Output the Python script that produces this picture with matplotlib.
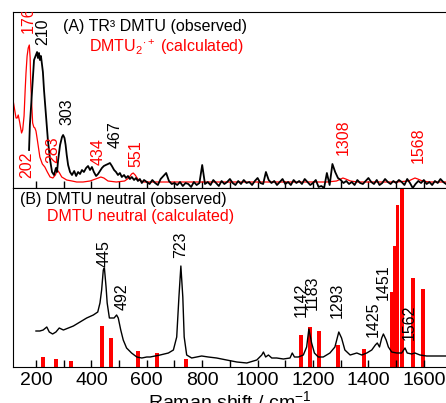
import numpy as np
import matplotlib
matplotlib.use("Agg")
import matplotlib.pyplot as plt
from matplotlib.ticker import MultipleLocator

plt.rcParams['font.family'] = ['Liberation Sans', 'DejaVu Sans']
plt.rcParams['mathtext.fontset'] = 'custom'
plt.rcParams['mathtext.rm'] = 'Liberation Sans'
plt.rcParams['mathtext.it'] = 'Liberation Sans:italic'

# (A) TR3 observed spectrum, peak region
obs_a_wn = [175, 178, 186, 193, 200, 204, 207, 211, 214, 218, 222, 225, 229, 236, 243,
            251, 258, 265, 272, 276, 280, 287, 294, 298, 303, 307, 311, 316, 323, 330,
            338, 345, 352, 359, 366, 373, 381, 388, 395, 402, 409, 417, 424, 431, 438,
            445, 452, 460, 467, 474, 482, 489, 496, 503, 510, 518, 525, 532, 539, 546,
            554, 561, 568, 575, 582, 590]
obs_a_int = [38, 63, 98, 128, 133, 136, 130, 135, 128, 132, 123, 116, 98, 73, 48,
             28, 16, 13, 20, 16, 28, 43, 51, 53, 50, 43, 33, 23, 16, 13,
             17, 12, 16, 14, 18, 16, 20, 22, 18, 21, 16, 12, 14, 17, 20,
             22, 23, 24, 25, 22, 18, 16, 13, 15, 11, 13, 10, 12, 9, 11,
             8, 10, 7, 9, 5, 8]
# (A) noisy baseline, 600-1680 cm-1 every 10
base_a_wn = list(range(600, 1690, 10))
base_a_int = [6, 4, 8, 5, 3, 9, 12, 15, 7, 4,
              5, 3, 6, 2, 5, 4, 1, 6, 3, 5,
              23, 4, 6, 3, 8, 5, 2, 7, 4, 6,
              9, 5, 3, 7, 4, 8, 5, 6, 3, 7,
              10, 5, 4, 16, 8, 5, 7, 3, 6, 9,
              4, 6, 3, 8, 5, 7, 4, 9, 6, 3,
              5, 8, 1, 2, 0, 15, 3, 24, 16, 10,
              8, 5, 7, 4, 6, 3, 8, 5, 4, 7,
              10, 6, 4, 8, 3, 5, 9, 6, 4, 7,
              5, 8, 6, 3, 9, 5, 0, 4, 7, 5,
              8, 4, 6, 3, 7, 5, 9, 6, 4]
# (A) calculated DMTU2 radical cation
calc_a_wn = [116, 122, 128, 132, 136, 141, 148, 152, 157, 161, 164, 168, 172, 176, 179,
             181, 185, 188, 192, 196, 200, 205, 214, 223, 232, 241, 251, 261, 270, 277,
             285, 293, 311, 330, 347, 370, 395, 415, 425, 434, 445, 460, 490, 520, 535,
             545, 551, 558, 570, 590, 700, 900, 1100, 1250, 1285, 1300, 1308, 1318, 1335,
             1360, 1500, 1545, 1560, 1568, 1578, 1595, 1620, 1680]
calc_a_int = [90, 80, 70, 70, 73, 66, 55, 58, 72, 98, 115, 132, 140, 143, 130,
              105, 82, 65, 61, 60, 57, 48, 31, 24, 21, 16, 11, 10, 13, 18,
              15, 11, 8, 7, 6, 6, 7, 9, 10, 11, 10, 7, 6, 7, 10,
              14, 15, 13, 8, 6, 6, 6, 6, 6, 7, 9, 10, 9, 7,
              6, 6, 7, 9, 10, 9, 7, 6, 6]

# (B) DMTU neutral observed
obs_b_wn = [200, 214, 226, 239, 248, 260, 272, 284, 299, 317, 335, 359, 383, 407, 423,
            431, 437, 443, 447, 453, 457, 465, 473, 482, 491, 497, 506, 515, 527, 545,
            564, 582, 600, 612, 648, 678, 696, 708, 716, 723, 730, 735, 744, 762, 780,
            798, 822, 852, 888, 925, 961, 997, 1015, 1021, 1029, 1039, 1051, 1069, 1093, 1117,
            1125, 1133, 1147, 1165, 1177, 1185, 1195, 1205, 1219, 1237, 1261, 1279, 1293, 1303, 1315,
            1334, 1358, 1376, 1394, 1412, 1425, 1432, 1440, 1448, 1454, 1464, 1472, 1484, 1502, 1520,
            1532, 1540, 1556, 1568, 1586, 1610, 1646, 1680]
obs_b_int = [36, 36, 37, 40, 35, 33, 35, 39, 37, 39, 41, 45, 49, 52, 55,
             64, 77, 97, 99, 80, 64, 49, 49, 49, 52, 49, 37, 27, 19, 14,
             10, 9, 10, 10, 12, 14, 17, 30, 70, 101, 70, 30, 12, 9, 10,
             11, 10, 9, 7, 5, 4, 7, 12, 15, 10, 12, 9, 9, 8, 9,
             14, 10, 10, 12, 20, 38, 24, 14, 10, 10, 14, 20, 35, 29, 17,
             12, 14, 12, 14, 17, 22, 24, 20, 29, 33, 27, 20, 15, 14, 14,
             19, 14, 13, 14, 12, 11, 11, 11]
# (B) calculated frequencies / intensities
calc_b_wn = [225, 272, 326, 438, 470, 568, 637, 742, 1157, 1190, 1222, 1291, 1384,
             1485, 1496, 1505, 1521, 1561, 1597]
calc_b_int = [10, 8, 6, 41, 29, 16, 14, 8, 32, 40, 36, 22, 18,
              75, 121, 162, 200, 89, 78]

# peak labels: text, x (cm-1), y, colour
labels_a = [("176", 171, 155, 'red'), ("210", 225, 143, 'black'), ("303", 312, 63, 'black'),
            ("467", 485, 40, 'black'), ("202", 167, 10, 'red'), ("283", 261, 25, 'red'),
            ("434", 424, 23, 'red'), ("551", 561, 21, 'red'), ("1308", 1308, 33, 'red'),
            ("1568", 1579, 25, 'red')]
labels_b = [("445", 445, 100), ("492", 510, 57), ("723", 723, 109), ("1142", 1157, 50),
            ("1183", 1196, 57), ("1293", 1287, 49), ("1425", 1417, 30), ("1451", 1453, 67),
            ("1562", 1547, 27)]

fig = plt.figure(figsize=(4.46, 4.03), dpi=100)
left = 12.7 / 446
ax1 = fig.add_axes([left, 215 / 403, 1 - left, 176 / 403])
ax2 = fig.add_axes([left, 36 / 403, 1 - left, 179 / 403])

xmin, xmax = 116, 1680
for ax in (ax1, ax2):
    ax.set_xlim(xmin, xmax)
    ax.set_yticks([])
    ax.spines['right'].set_visible(False)
    ax.xaxis.set_major_locator(MultipleLocator(200))
    ax.xaxis.set_minor_locator(MultipleLocator(100))
    ax.tick_params(axis='x', which='both', direction='in', length=5, width=1, labelsize=14)

# top panel
ax1.set_ylim(0, 176)
ax1.plot(calc_a_wn, calc_a_int, color='red', lw=0.9)
ax1.plot(obs_a_wn + base_a_wn, obs_a_int + base_a_int, color='black', lw=1.3)
ax1.tick_params(axis='x', labelbottom=False)
for txt, x, y, c in labels_a:
    ax1.text(x, y, txt, rotation=90, ha='center', va='bottom', color=c,
             fontsize=11.5, clip_on=True)
ax1.text(0.116, 0.92, "(A) TR³ DMTU (observed)", transform=ax1.transAxes,
         fontsize=11.5, va='center', ha='left')
ax1.text(0.176, 0.80, r"DMTU$_2$$^{\cdot +}$ (calculated)", transform=ax1.transAxes,
         fontsize=11.5, va='center', ha='left', color='red')

# bottom panel
ax2.set_ylim(0, 179)
ax2.bar(calc_b_wn, calc_b_int, width=14, color='red', linewidth=0)
ax2.plot(obs_b_wn, obs_b_int, color='black', lw=1)
for txt, x, y in labels_b:
    ax2.text(x, y, txt, rotation=90, ha='center', va='bottom', fontsize=11.5)
ax2.text(0.017, 0.933, "(B) DMTU neutral (observed)", transform=ax2.transAxes,
         fontsize=11.5, va='center', ha='left')
ax2.text(0.079, 0.838, "DMTU neutral (calculated)", transform=ax2.transAxes,
         fontsize=11.5, va='center', ha='left', color='red')
ax2.set_xlabel("Raman shift / cm$^{-1}$", fontsize=14, labelpad=1)

fig.savefig("out.png", dpi=100)
